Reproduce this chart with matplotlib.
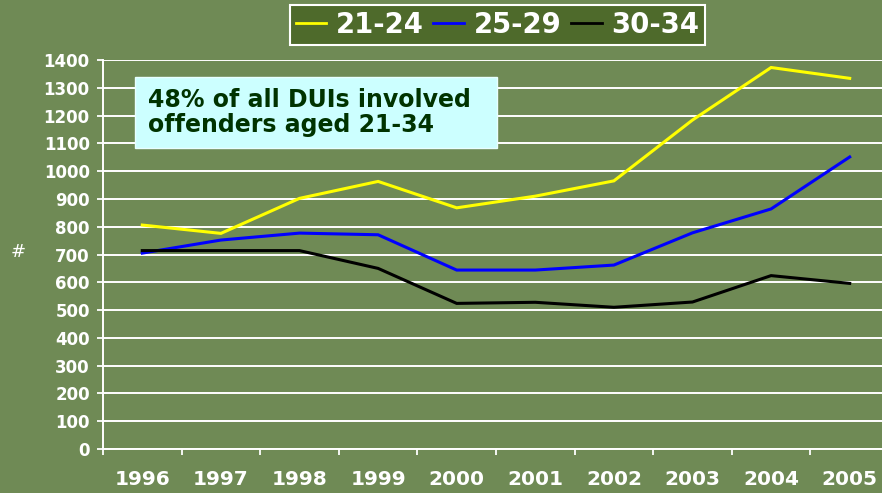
import matplotlib
matplotlib.use("Agg")
import matplotlib.pyplot as plt
from matplotlib.patches import Rectangle
import numpy as np

years = ["1996", "1997", "1998", "1999", "2000", "2001", "2002", "2003", "2004", "2005"]
age_21_24 = [806, 776, 902, 963, 868, 910, 965, 1184, 1373, 1334]
age_25_29 = [705, 752, 777, 771, 644, 644, 662, 778, 864, 1051]
age_30_34 = [714, 714, 714, 650, 524, 528, 510, 529, 624, 596]
series_names = ["21-24", "25-29", "30-34"]
series_colors = ["#FFFF00", "#0000FF", "#000000"]
y_ticks = list(range(0, 1401, 100))

W, H = 882, 493
bg = "#6F8A55"

fig = plt.figure(figsize=(W / 100, H / 100), dpi=100, facecolor=bg)
ax = fig.add_axes([103 / W, 44 / H, 786 / W, 389 / H])
ax.set_facecolor(bg)

x = np.arange(len(years))
for vals, name, col in zip([age_21_24, age_25_29, age_30_34], series_names, series_colors):
    ax.plot(x, vals, color=col, lw=2.2, label=name, solid_joinstyle="miter")

ax.set_xlim(-0.5, len(years) - 0.5)
ax.set_ylim(0, 1400)
ax.set_yticks(y_ticks)
ax.set_yticklabels([str(v) for v in y_ticks])
ax.set_xticks(x)
ax.set_xticklabels(years)
ax.set_xticks(np.arange(-0.5, len(years), 1.0), minor=True)

ax.grid(axis="y", color="white", lw=1.4)
ax.set_axisbelow(True)
for s in ["top", "right"]:
    ax.spines[s].set_visible(False)
for s in ["left", "bottom"]:
    ax.spines[s].set_color("white")
    ax.spines[s].set_linewidth(1.4)

ax.tick_params(axis="y", colors="white", length=4.5, width=1.3, pad=5,
               labelsize=12)
ax.tick_params(axis="x", which="major", length=0, pad=15, colors="white",
               labelsize=14.5)
ax.tick_params(axis="x", which="minor", length=4, width=1.3, color="white")
for lab in ax.get_yticklabels() + ax.get_xticklabels():
    lab.set_fontweight("bold")
    lab.set_color("white")

fig.text(18 / W, 1 - 252 / H, "#", color="white", fontsize=13,
         ha="center", va="center")

leg = fig.legend(loc="center", bbox_to_anchor=(497.5 / W, 1 - 25 / H), ncol=3,
                 fontsize=19.8, frameon=True, fancybox=False,
                 handlelength=1.1, handletextpad=0.36, columnspacing=0.36,
                 borderpad=0.22, borderaxespad=0)
frame = leg.get_frame()
frame.set_facecolor("#4E6A2B")
frame.set_edgecolor("white")
frame.set_linewidth(1.5)
frame.set_alpha(1)
for t in leg.get_texts():
    t.set_color("white")
    t.set_fontweight("bold")
for h in leg.get_lines():
    h.set_linewidth(2)

fig.patches.append(Rectangle((135 / W, 1 - 148 / H), 362 / W, 71 / H,
                             transform=fig.transFigure, facecolor="#CCFFFF",
                             edgecolor="#E8FFFF", lw=1, zorder=5))
fig.text(148 / W, 1 - 112.5 / H, "48% of all DUIs involved\noffenders aged 21-34",
         color="#003300", fontsize=17, fontweight="bold", ha="left", va="center",
         linespacing=1.1, zorder=6)

fig.savefig("out.png", dpi=100, facecolor=bg)
